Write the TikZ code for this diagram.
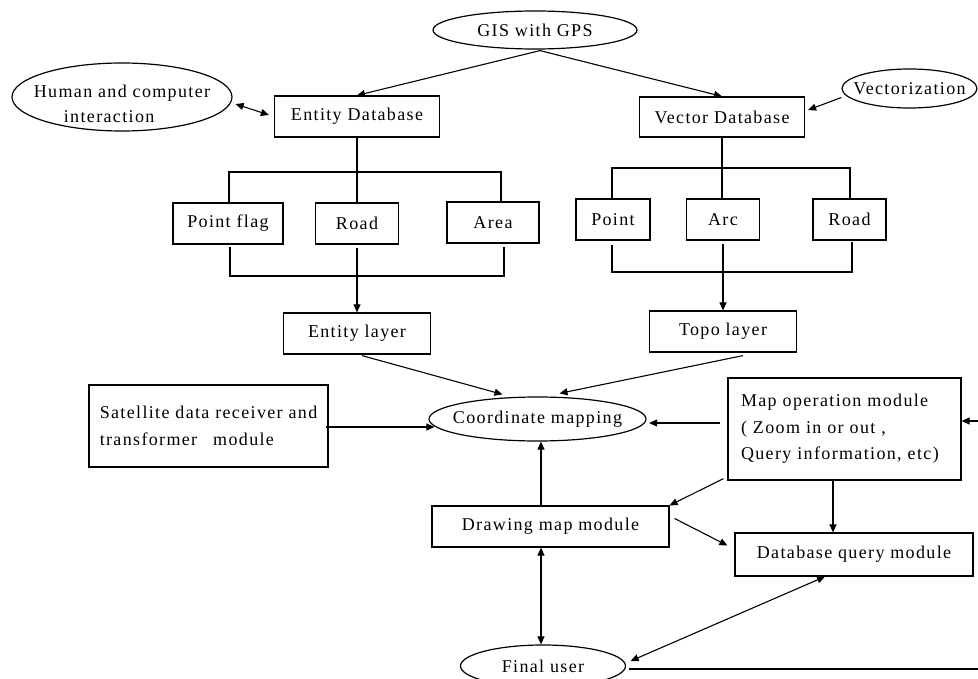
\documentclass[tikz,border=0pt]{standalone}
\usepackage{fontspec}
\setmainfont{Liberation Serif}[LetterSpace=7.5]
\usetikzlibrary{shapes.geometric,arrows.meta,calc}
\begin{document}
\begin{tikzpicture}[x=1pt,y=-1pt,
  every node/.style={inner sep=0pt, font=\fontsize{18}{26.5}\selectfont},
  box/.style={draw, line width=1.2pt, rectangle},
  oval/.style={draw, line width=1.2pt, ellipse, inner xsep=-40pt, inner ysep=-20pt},
  conn/.style={line width=1.1pt},
  arr/.style={conn, -{Triangle[length=8pt,width=7pt]}},
  biarr/.style={conn, {Triangle[length=8pt,width=7pt]}-{Triangle[length=8pt,width=7pt]}}]
\clip (0,0) rectangle (978,679);
\fill[white] (0,0) rectangle (978,679);

% top row
\node[oval, minimum width=204pt, minimum height=38pt] (gis) at (535,30) {GIS with GPS};
\node[oval, minimum width=220pt, minimum height=68pt, align=left, text height=56pt, text depth=4pt,
      font=\fontsize{18}{25}\selectfont] (human) at (122,97) {Human and computer\\\hspace*{30pt}interaction};
\node[box, minimum width=165pt, minimum height=41pt] (entdb) at (357,116.5) {Entity Database};
\node[box, minimum width=165pt, minimum height=40pt] (vecdb) at (722,117) {Vector Database};
\node[oval, minimum width=135pt, minimum height=39pt] (vect) at (909.5,88.5) {Vectorization};

% sub boxes
\node[box, minimum width=110pt, minimum height=41pt] (pf) at (228,223.5) {Point flag};
\node[box, minimum width=83pt, minimum height=41pt] (road1) at (357,223.5) {Road};
\node[box, minimum width=92pt, minimum height=41pt] (area) at (493,222.5) {Area};
\node[box, minimum width=74pt, minimum height=41pt] (pt) at (613,219.5) {Point};
\node[box, minimum width=73pt, minimum height=41pt] (arc) at (723,219.5) {Arc};
\node[box, minimum width=73pt, minimum height=41pt] (road2) at (849.5,219.5) {Road};

% layers
\node[box, minimum width=147pt, minimum height=41pt] (entlay) at (357,333.5) {Entity layer};
\node[box, minimum width=147pt, minimum height=41pt] (topo) at (723,331.5) {Topo layer};

% middle
\node[oval, minimum width=217pt, minimum height=44pt] (coord) at (537.5,419) {Coordinate mapping};
\node[box, minimum width=239pt, minimum height=82pt, align=left] (sat) at (208.5,426) {Satellite data receiver and\\transformer\hspace{16pt}module};
\node[box, minimum height=102pt, text width=207pt, inner xsep=13pt, align=left] (mapop) at (844.5,429) {Map operation module\\( Zoom in or out ,\\Query information, etc)};
\node[box, minimum width=237pt, minimum height=41pt] (drw) at (550.5,526.5) {Drawing map module};
\node[box, minimum width=238pt, minimum height=43pt] (dbq) at (854,554.5) {Database query module};
\node[oval, minimum width=165pt, minimum height=42pt] (final) at (543,666) {Final user};

% coordinates
\coordinate (eb1) at (229,172);
\coordinate (eb2) at (501,172);
\coordinate (eb3t) at (230,247);
\coordinate (eb3) at (230,276);
\coordinate (eb4) at (504,276);
\coordinate (eb4t) at (504,247);
\coordinate (vb1) at (612,168);
\coordinate (vb2) at (850,168);
\coordinate (vb3t) at (612,245);
\coordinate (vb3) at (612,272);
\coordinate (vb4) at (852,272);
\coordinate (vb4t) at (852,242);
\coordinate (rin) at (978,421);
\coordinate (rout) at (978,669);
\coordinate (dtop) at ($(drw.north)+(-9.5,0)$);
\coordinate (dbot) at ($(drw.south)+(-9.5,0)$);
\coordinate (mx) at ($(mapop.south)+(-11.5,0)$);

% top connectors
\draw[arr] ($(gis.south)+(5,1)$) -- (entdb.north);
\draw[arr] ($(gis.south)+(5,1)$) -- (vecdb.north);
\draw[biarr] ($(human.east)+(3,7)$) -- ($(entdb.west)+(-5,-1.5)$);
\draw[arr] ($(vect.west)+(0,9)$) -- ($(vecdb.east)+(3,-7)$);

% left brackets
\draw[conn] (entdb.south) -- (road1.north);
\draw[conn] (pf.north -| eb1) -- (eb1) -- (eb2) -- (eb2 |- area.north);
\draw[conn] (eb3t) -- (eb3) -- (eb4) -- (eb4t);
\draw[arr] ($(road1.south)+(0,3)$) -- (entlay.north);

% right brackets
\draw[conn] (vecdb.south) -- (vecdb.south |- arc.north);
\draw[conn] (vb1 |- pt.north) -- (vb1) -- (vb2) -- (vb2 |- road2.north);
\draw[conn] (vb3t) -- (vb3) -- (vb4) -- (vb4t);
\draw[arr] ($(arc.south)+(0,3)$) -- (topo.north);

% to coordinate mapping
\draw[arr] ($(entlay.south)+(5,1)$) -- ($(coord.north)+(-35,-2)$);
\draw[arr] ($(topo.south)+(20,3)$) -- ($(coord.north)+(22,-3)$);
\draw[arr] ($(sat.east)+(-3,1)$) -- ($(coord.west)+(6,8)$);
\draw[arr] ($(mapop.west)+(-7,-6)$) -- ($(coord.east)+(2.5,4)$);
\draw[arr] (rin) -- (rin -| mapop.east);
\draw[arr] (dtop) -- (dtop |- coord.south);

% lower
\draw[arr] ($(mapop.south west)+(-4,-2)$) -- (drw.north east);
\draw[arr] ($(drw.east)+(5,-8)$) -- ($(dbq.west)+(-7,-9)$);
\draw[arr] (mx) -- (mx |- dbq.north);
\draw[biarr] (dbot) -- (dbot |- final.north);
\draw[biarr] ($(dbq.south)+(-29,0)$) -- ($(final.east)+(4.5,-5)$);
\draw[conn] ($(final.east)+(2.5,3)$) -- (rout);
\end{tikzpicture}
\end{document}
